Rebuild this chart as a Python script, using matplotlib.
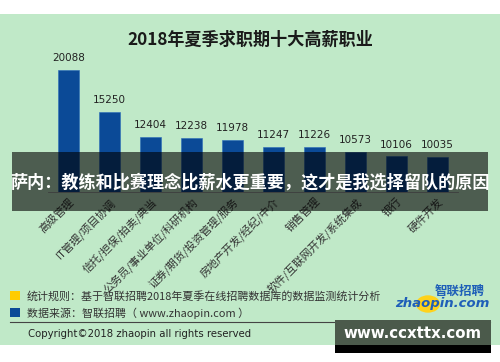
import matplotlib.pyplot as plt
from matplotlib.patches import Rectangle, Circle

plt.rcParams['font.family'] = ['Noto Sans CJK SC', 'DejaVu Sans']

# 数据
jobs = ['高级管理', 'IT管理/项目协调', '信托/担保/拍卖/典当', '公务员/事业单位/科研机构',
        '证券/期货/投资管理/服务', '房地产开发/经纪/中介', '销售管理',
        '软件/互联网开发/系统集成', '银行', '硬件开发']
salary = [20088, 15250, 12404, 12238, 11978, 11247, 11226, 10573, 10106, 10035]

title = '2018年夏季求职期十大高薪职业'
banner = '萨内：教练和比赛理念比薪水更重要，这才是我选择留队的原因'
note1 = '统计规则：基于智联招聘2018年夏季在线招聘数据库的数据监测统计分析'
note2 = '数据来源：智联招聘（ www.zhaopin.com ）'
copyright_txt = 'Copyright©2018 zhaopin all rights reserved'

W, H = 500, 362


def px(x, y):
    return x / W, 1 - y / H


fig = plt.figure(figsize=(5, 3.62), dpi=100)
fig.patch.set_facecolor('white')

# 绿色背景
fig.add_artist(Rectangle(px(0, 345), 1, (345 - 14) / H, transform=fig.transFigure,
                         facecolor='#c0e9c8', edgecolor='none', zorder=-1))

ax = fig.add_axes([48 / W, 1 - 192 / H, 410 / W, (192 - 53.6) / H])
ax.patch.set_alpha(0)
x = range(len(jobs))
bars = ax.bar(x, salary, width=0.51, color='#0b4a97', edgecolor='#2a6cb8', linewidth=0.4)
ax.set_xlim(-0.5, len(jobs) - 0.5)
ax.set_ylim(6000, 22000)
for i, v in enumerate(salary):
    ax.annotate(str(v), (i, v), xytext=(0, 5), textcoords='offset points',
                ha='center', va='bottom', fontsize=7.5, color='#222222', family='DejaVu Sans')
ax.set_xticks(list(x))
ax.set_xticklabels(jobs, rotation=45, ha='right', rotation_mode='anchor',
                   fontsize=7.8, color='#333333')
ax.tick_params(axis='x', length=0, pad=3)
ax.set_yticks([])
for s in ['top', 'right', 'left']:
    ax.spines[s].set_visible(False)
ax.spines['bottom'].set_color('#999999')
ax.spines['bottom'].set_linewidth(0.6)

fig.text(*px(250, 40), title, ha='center', va='center', fontsize=12.3,
         fontweight='bold', color='#1a1a1a')

# 遮罩横幅
fig.add_artist(Rectangle(px(12, 211), (488 - 12) / W, (211 - 152) / H, transform=fig.transFigure,
                         facecolor='black', alpha=0.6, edgecolor='none', zorder=10))
fig.text(*px(250, 183), banner, ha='center', va='center', fontsize=12.3,
         fontweight='bold', color='white', zorder=11)

# 底部说明
fig.add_artist(Rectangle(px(10, 300), 10 / W, 9 / H, transform=fig.transFigure,
                         facecolor='#ffcc00', edgecolor='none'))
fig.add_artist(Rectangle(px(10, 317), 10 / W, 9 / H, transform=fig.transFigure,
                         facecolor='#0b4a97', edgecolor='none'))
fig.text(*px(27, 296), note1, ha='left', va='center', fontsize=7.9, color='#333333')
fig.text(*px(27, 313), note2, ha='left', va='center', fontsize=7.9, color='#333333')
fig.add_artist(plt.Line2D([10 / W, 490 / W], [1 - 322 / H, 1 - 322 / H],
                          transform=fig.transFigure, color='#444444', linewidth=0.8))
fig.text(*px(28, 334), copyright_txt, ha='left', va='center', fontsize=7.3,
         color='#222222', family='DejaVu Sans')

# 标志
fig.add_artist(Circle(px(428, 304), 12 / W, transform=fig.transFigure,
                      facecolor='#ffd21a', edgecolor='none'))
fig.text(*px(460, 291), '智联招聘', ha='center', va='center', fontsize=9,
         fontweight='bold', style='italic', color='#1f5fb8')
fig.text(*px(442, 304), 'zhaopin.com', ha='center', va='center', fontsize=9.5,
         fontweight='bold', style='italic', color='#1f5fb8', family='DejaVu Sans')

# 水印
fig.add_artist(Rectangle(px(335, 345), 156 / W, 25 / H, transform=fig.transFigure,
                         facecolor='#4b5a4b', edgecolor='none', zorder=10))
fig.add_artist(Rectangle(px(335, 353), 156 / W, 8 / H, transform=fig.transFigure,
                         facecolor='black', edgecolor='none', zorder=10))
fig.text(*px(413, 333), 'www.ccxttx.com', ha='center', va='center', fontsize=10.8,
         fontweight='bold', color='white', family='DejaVu Sans', zorder=11)

fig.savefig('out.png', dpi=100)
